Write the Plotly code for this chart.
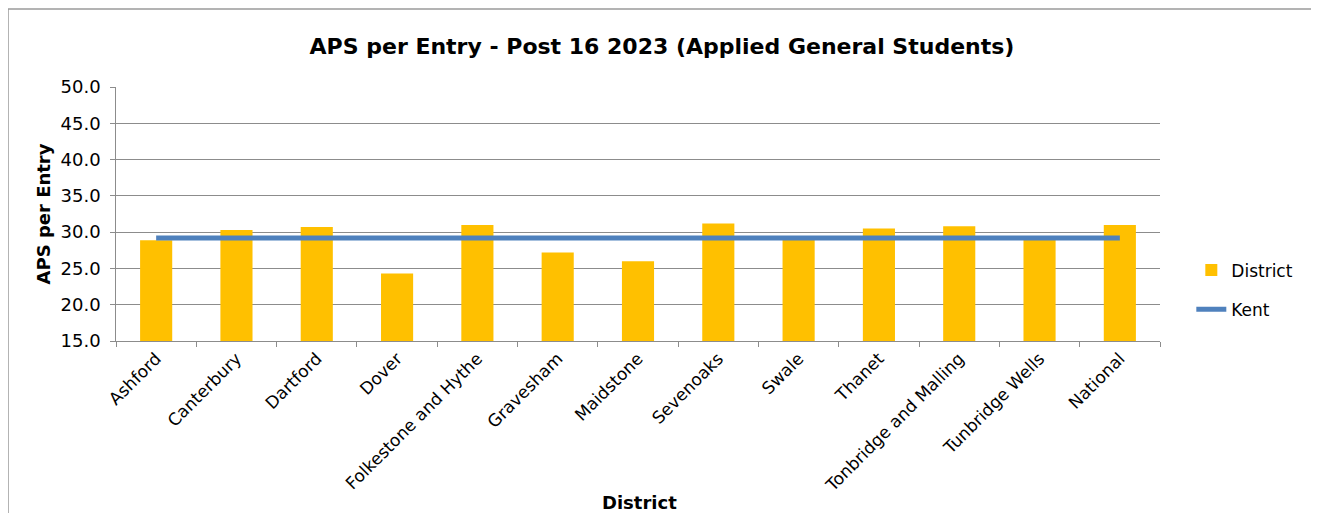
import plotly.graph_objects as go

districts = ["Ashford", "Canterbury", "Dartford", "Dover", "Folkestone and Hythe",
             "Gravesham", "Maidstone", "Sevenoaks", "Swale", "Thanet",
             "Tonbridge and Malling", "Tunbridge Wells", "National"]
district_aps = [28.9, 30.3, 30.7, 24.3, 31.0, 27.2, 26.0, 31.2, 29.0, 30.5, 30.8, 29.1, 31.0]
kent_aps = [29.2] * len(districts)

FONT = "Verdana, DejaVu Sans, sans-serif"

fig = go.Figure()
fig.add_trace(go.Bar(x=districts, y=district_aps, name="District",
                     marker=dict(color="#FFC000", line=dict(width=0)),
                     width=0.4, legendgroup="a"))
fig.add_trace(go.Scatter(x=districts, y=kent_aps, name="Kent", mode="lines",
                         line=dict(color="#4F81BD", width=5), legendgroup="b"))

PW, PH = 1044, 254
L, T = 108, 79

fig.update_layout(
    width=1319, height=513,
    margin=dict(l=L, r=1319 - L - PW, t=T, b=513 - T - PH),
    paper_bgcolor="white", plot_bgcolor="white",
    font=dict(family=FONT, size=17, color="black"),
    title=dict(text="<b>APS per Entry - Post 16 2023 (Applied General Students)</b>",
               x=(662 - 8) / 1319, xanchor="center", y=1 - 38 / 513, yanchor="middle",
               font=dict(size=22, family=FONT)),
    showlegend=True,
    legend=dict(x=1.03, xanchor="left", y=(341 - 290) / PH, yanchor="middle",
                font=dict(size=17, family=FONT), tracegroupgap=14,
                bgcolor="rgba(0,0,0,0)"),
)
fig.update_yaxes(range=[15, 50], dtick=5, tickformat=".1f", ticksuffix="\u00a0",
                 showgrid=True, gridcolor="#8c8c8c", gridwidth=1,
                 showline=True, linecolor="#8c8c8c", linewidth=1,
                 ticks="outside", ticklen=5, tickcolor="#8c8c8c",
                 tickfont=dict(size=18, family=FONT),
                 title=dict(text="<b>APS per Entry</b>", font=dict(size=18, family=FONT), standoff=5),
                 zeroline=False)
fig.update_xaxes(showline=True, linecolor="#8c8c8c", linewidth=1,
                 ticks="outside", ticklen=5, tickcolor="#8c8c8c", tickson="boundaries",
                 tickangle=-45, tickfont=dict(size=17, family=FONT))

fig.add_annotation(text="<b>District</b>", xref="paper", yref="paper",
                   x=(639 - 116) / PW, y=(341 - 502) / PH, xanchor="center", yanchor="middle",
                   showarrow=False, font=dict(size=18, family=FONT))

# chart area border
fig.add_shape(type="rect", xref="paper", yref="paper",
              x0=(0 - L) / PW, x1=(1308 - L) / PW,
              y0=(T + PH - 530) / PH, y1=(T + PH - 1) / PH,
              line=dict(color="#9a9a9a", width=1.5), fillcolor="rgba(0,0,0,0)", layer="below")

fig.write_html("out.html")
